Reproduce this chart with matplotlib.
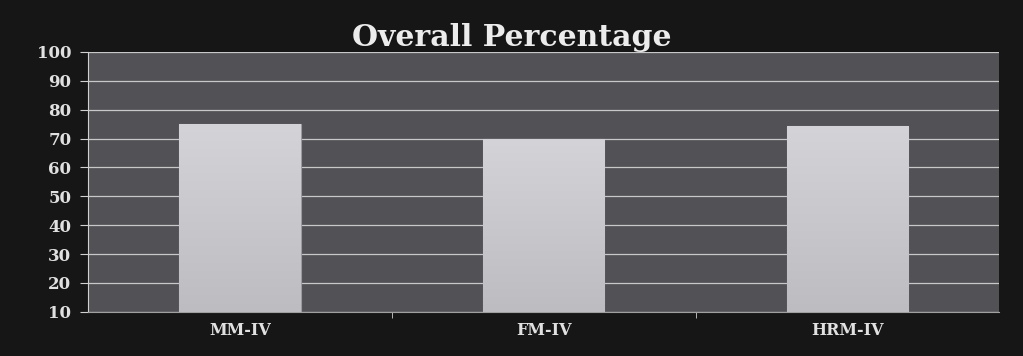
import matplotlib
matplotlib.use("Agg")
import matplotlib.pyplot as plt
import numpy as np

categories = ["MM-IV", "FM-IV", "HRM-IV"]
values = [75, 70, 74.5]
yticks = [10, 20, 30, 40, 50, 60, 70, 80, 90, 100]

fig = plt.figure(figsize=(10.23, 3.56), dpi=100, facecolor="#161616")
ax = fig.add_axes([0.086, 0.124, 0.891, 0.730])
ax.set_facecolor("#525256")

x = np.arange(len(categories))
bars = ax.bar(x, [v - 10 for v in values], bottom=10, width=0.4,
              color="#c4c4c8", edgecolor="#9a9aa0", linewidth=0.8, zorder=3)

# subtle vertical gradient on the bars
grad = np.linspace(0.0, 1.0, 256).reshape(-1, 1)
for b in bars:
    bx, by = b.get_x(), b.get_y()
    bw, bh = b.get_width(), b.get_height()
    im = ax.imshow(grad, extent=[bx, bx + bw, by, by + bh], aspect="auto",
                   cmap=matplotlib.colors.LinearSegmentedColormap.from_list(
                       "g", ["#bdbdc1", "#d4d4d8"]), origin="lower", zorder=4)
    im.set_clip_path(b)

ax.set_xlim(-0.5, len(categories) - 0.5)
ax.set_ylim(10, 100)
ax.set_yticks(yticks)
ax.yaxis.grid(True, color="#c8c8c8", linewidth=0.9, zorder=1)
ax.set_axisbelow(True)

ax.set_xticks(x)
ax.set_xticklabels(categories)
ax.set_xticks([0.5, 1.5], minor=True)
ax.tick_params(axis="x", which="major", length=0, pad=7)
ax.tick_params(axis="x", which="minor", length=4, color="#d0d0d0", direction="out")
ax.tick_params(axis="y", length=6, color="#d0d0d0", direction="out", pad=6)

for lab in ax.get_xticklabels() + ax.get_yticklabels():
    lab.set_fontfamily("DejaVu Serif")
    lab.set_fontweight("bold")
    lab.set_color("#e0e0e0")
for lab in ax.get_xticklabels():
    lab.set_fontsize(11.5)
for lab in ax.get_yticklabels():
    lab.set_fontsize(12)

for side in ["top", "right"]:
    ax.spines[side].set_visible(False)
ax.spines["left"].set_color("#d0d0d0")
ax.spines["bottom"].set_color("#a0a0a0")

fig.text(0.5, 0.895, "Overall Percentage", ha="center", va="center",
         fontfamily="DejaVu Serif", fontweight="bold", fontsize=21.5, color="#ececec",
         zorder=10)

fig.savefig("out.png", dpi=100, facecolor=fig.get_facecolor())
